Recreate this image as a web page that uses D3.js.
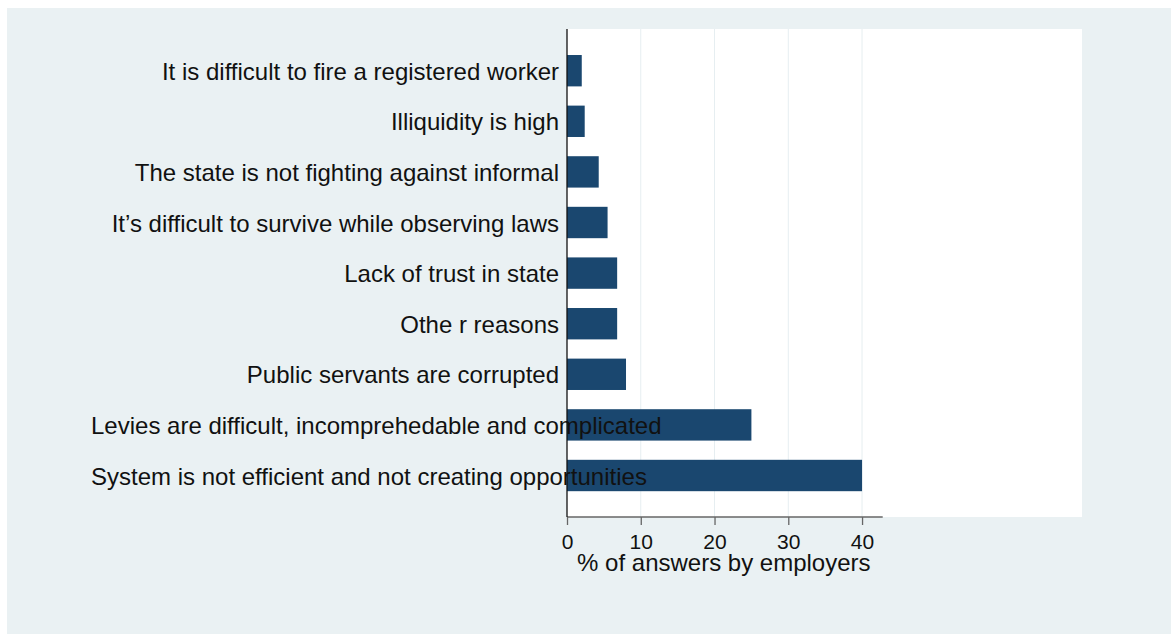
<!DOCTYPE html>
<html>
<head>
<meta charset="utf-8">
<script src="https://cdn.jsdelivr.net/npm/d3@7"></script>
<style>
  html, body { margin: 0; padding: 0; background: #ffffff; }
  svg { display: block; }
  text { font-family: "Liberation Sans", Arial, sans-serif; fill: #111; }
</style>
</head>
<body>
<svg id="chart" width="1171" height="634"></svg>
<script>
// ---- data ----
const categories = [
  "It is difficult to fire a registered worker",
  "Illiquidity is high",
  "The state is not fighting against informal",
  "It\u2019s difficult to survive while observing laws",
  "Lack of trust in state",
  "Othe r reasons",
  "Public servants are corrupted",
  "Levies are difficult, incomprehedable and complicated",
  "System is not efficient and not creating opportunities"
];
const values = [2.0, 2.4, 4.3, 5.5, 6.8, 6.8, 8.0, 25.0, 40.0];
const xTicks = [0, 10, 20, 30, 40];
const xTitle = "% of answers by employers";

// ---- layout ----
const svg = d3.select("#chart");
const W = 1171, H = 634;
const plot = { left: 567, right: 1082, top: 29, bottom: 517 };

svg.append("rect").attr("x", 7).attr("y", 8).attr("width", W - 7).attr("height", H - 8)
  .attr("fill", "#eaf1f3");
svg.append("rect").attr("x", plot.left).attr("y", plot.top)
  .attr("width", plot.right - plot.left).attr("height", plot.bottom - plot.top)
  .attr("fill", "#ffffff");

const x = d3.scaleLinear().domain([0, 42.8]).range([567, 882.7]);
const y = d3.scaleBand().domain(categories).range([45.4, 500.8])
  .paddingInner(0.38).paddingOuter(0.19);

// gridlines
svg.append("g").selectAll("line").data(xTicks.filter(d => d > 0)).join("line")
  .attr("x1", d => x(d)).attr("x2", d => x(d))
  .attr("y1", plot.top).attr("y2", plot.bottom)
  .attr("stroke", "#e6eef1").attr("stroke-width", 1);

// bars
svg.append("g").selectAll("rect").data(values).join("rect")
  .attr("x", x(0))
  .attr("y", (d, i) => y(categories[i]))
  .attr("width", d => x(d) - x(0))
  .attr("height", y.bandwidth())
  .attr("fill", "#1a476f");

// x axis
const xAxis = d3.axisBottom(x).tickValues(xTicks).tickSize(8).tickPadding(9)
  .tickFormat(d3.format("d"));
const gx = svg.append("g").attr("transform", `translate(0,${plot.bottom})`).call(xAxis);
gx.select(".domain").attr("stroke", "#666").attr("stroke-width", 1.3)
  .attr("d", `M${x(0)},0H${x(42.8)}`);
gx.selectAll(".tick line").attr("stroke", "#666").attr("stroke-width", 1.3);
gx.selectAll(".tick text").attr("font-size", 21).attr("font-family", "Liberation Sans, Arial, sans-serif")
  .attr("fill", "#111");

// y axis line
svg.append("line").attr("x1", x(0)).attr("x2", x(0))
  .attr("y1", plot.top).attr("y2", plot.bottom)
  .attr("stroke", "#111").attr("stroke-width", 1.3);

// category labels: right-aligned at a gap from the axis, but not left of the margin
const labelRight = 559, labelMinLeft = 91;
const labels = svg.append("g").selectAll("text").data(categories).join("text")
  .attr("font-size", 24)
  .attr("y", d => y(d) + y.bandwidth() / 2 + 9)
  .text(d => d);
labels.each(function() {
  const w = this.getComputedTextLength();
  const left = Math.max(labelMinLeft, labelRight - w);
  d3.select(this).attr("x", left);
});

// x title
svg.append("text").attr("x", (x(0) + x(42.8)) / 2 - 1).attr("y", 571)
  .attr("text-anchor", "middle").attr("font-size", 24).text(xTitle);
</script>
</body>
</html>
